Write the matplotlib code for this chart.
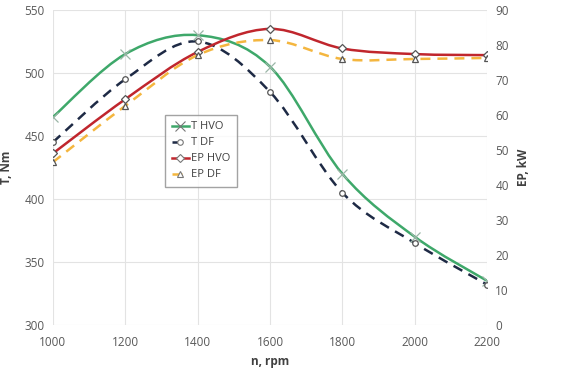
import matplotlib
matplotlib.use('Agg')
import matplotlib.pyplot as plt
from matplotlib.path import Path
from matplotlib.patches import PathPatch
from matplotlib.lines import Line2D

plt.rcParams['font.family'] = ['Open Sans', 'DejaVu Sans']

# Data
rpm = [1000, 1200, 1400, 1600, 1800, 2000, 2200]
t_hvo = [465, 515, 530, 505, 420, 370, 335]
t_df = [445, 495, 525, 485, 405, 365, 332]
ep_hvo = [49, 64.5, 78, 84.6, 79, 77.4, 77.1]
ep_df = [46.5, 62.6, 77.1, 81.4, 76, 76, 76.3]

series_t = [('T HVO', t_hvo, '#3ea86a', '-', 'x'),
            ('T DF', t_df, '#1e2a45', (0, (4, 2.8)), 'o')]
series_ep = [('EP HVO', ep_hvo, '#c0262d', '-', 'D'),
             ('EP DF', ep_df, '#f4b63f', (0, (4, 2.8)), '^')]

marker_size = {'x': 7, 'o': 4, 'D': 4.5, '^': 5}


# Excel-like smoothed line: cubic Bezier through every point
def smooth_path(x, y):
    verts = [(x[0], y[0])]
    codes = [Path.MOVETO]
    n = len(x)
    for i in range(n - 1):
        x0, y0 = (x[i - 1], y[i - 1]) if i > 0 else (x[i], y[i])
        x3, y3 = (x[i + 2], y[i + 2]) if i + 2 < n else (x[i + 1], y[i + 1])
        c1 = (x[i] + (x[i + 1] - x0) / 6, y[i] + (y[i + 1] - y0) / 6)
        c2 = (x[i + 1] - (x3 - x[i]) / 6, y[i + 1] - (y3 - y[i]) / 6)
        verts += [c1, c2, (x[i + 1], y[i + 1])]
        codes += [Path.CURVE4] * 3
    return Path(verts, codes)


def draw(ax, label, y, color, ls, marker):
    ms = marker_size[marker]
    ax.add_patch(PathPatch(smooth_path(rpm, y), facecolor='none', edgecolor=color,
                           lw=1.8, linestyle=ls, zorder=3))
    ax.plot(rpm, y, linestyle='none', marker=marker, ms=ms,
            mfc='white' if marker != 'x' else 'none',
            mec='#555555' if marker != 'x' else '#9ab5a6',
            mew=0.9, zorder=4)
    return Line2D([], [], color=color, lw=1.8, linestyle=ls, marker=marker,
                  ms=ms, mfc='white', mec='#777777', mew=0.8)


fig = plt.figure(figsize=(5.63, 3.70), dpi=100)
ax = fig.add_axes([0.094, 0.122, 0.771, 0.851])
ax2 = ax.twinx()

handles = []
for s in series_t:
    handles.append(draw(ax, *s))
for s in series_ep:
    handles.append(draw(ax2, *s))

ax.set_xlim(1000, 2200)
ax.set_ylim(300, 550)
ax2.set_ylim(0, 90)
ax.set_xticks(range(1000, 2201, 200))
ax.set_yticks(range(300, 551, 50))
ax2.set_yticks(range(0, 91, 10))
ax.grid(True, color='#e3e3e3', lw=0.8)
ax.set_axisbelow(True)
for a in (ax, ax2):
    for sp in a.spines.values():
        sp.set_visible(False)
    a.tick_params(length=0, labelsize=8.5, colors='#595959')
ax.tick_params(axis='x', pad=8)
ax.tick_params(axis='y', pad=6)
ax2.tick_params(axis='y', pad=6)

ax.set_xlabel('n, rpm', fontsize=8.5, color='#404040', fontweight='bold', labelpad=4)
ax.set_ylabel('T, Nm', fontsize=8.5, color='#404040', fontweight='bold', labelpad=8)
ax2.set_ylabel('EP, kW', fontsize=8.5, color='#404040', fontweight='bold', labelpad=6)

leg = ax2.legend(handles, [s[0] for s in series_t + series_ep], loc='upper left',
                 bbox_to_anchor=(0.246, 0.685), fontsize=8, frameon=True,
                 fancybox=False, edgecolor='#8c8c8c', handlelength=1.5,
                 handletextpad=0.2, labelspacing=0.45, borderpad=0.6)
leg.get_frame().set_linewidth(1.0)
for t in leg.get_texts():
    t.set_color('#404040')

fig.savefig('out.png', dpi=100)
